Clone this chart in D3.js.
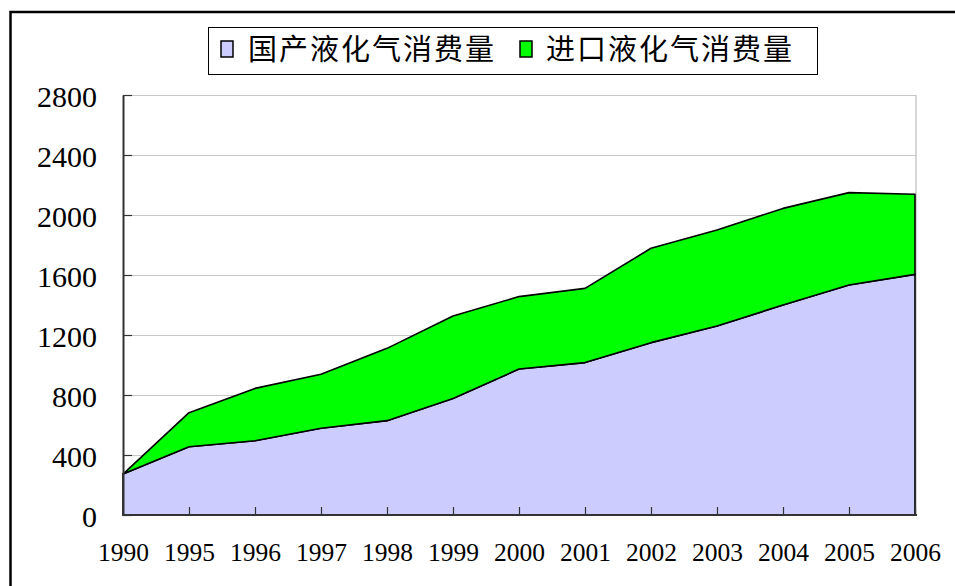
<!DOCTYPE html>
<html>
<head>
<meta charset="utf-8">
<script src="https://cdn.jsdelivr.net/npm/d3@7"></script>
<style>
  body { margin: 0; background: #fff; }
  svg { display: block; }
</style>
</head>
<body>
<div class="canvas"></div>
<script>
// years on the x axis (equally spaced categories)
const years = ['1990', '1995', '1996', '1997', '1998', '1999', '2000', '2001', '2002', '2003', '2004', '2005', '2006'];
// domestic LPG consumption
const domestic = [273, 455, 495, 578, 629, 776, 973, 1016, 1149, 1260, 1400, 1533, 1604];
// imported LPG consumption
const imported = [0, 227, 349, 360, 482, 551, 483, 495, 629, 640, 644, 616, 534];
const seriesNames = ['国产液化气消费量', '进口液化气消费量'];
const seriesColors = ['#ccccff', '#00ff00'];
const yTicks = [0, 400, 800, 1200, 1600, 2000, 2400, 2800];

draw_area_chart();

function draw_area_chart() {
    const W = 955, H = 586;
    const svg = d3.select('.canvas')
        .append('svg')
        .attr('width', W)
        .attr('height', H);

    // outer frame (top + left visible)
    svg.append('path')
        .attr('d', `M10.5,${H + 5} V12 H${W + 5}`)
        .attr('fill', 'none')
        .attr('stroke', '#000')
        .attr('stroke-width', 2.5);

    const left = 123, right = 916, top = 95, bottom = 515;

    const x = d3.scalePoint().domain(years).range([left, right - 1]);
    const y = d3.scaleLinear().domain([0, 2800]).range([bottom, top]);

    const table = years.map((yr, i) => ({ year: yr, dom: domestic[i], imp: imported[i] }));
    const stack = d3.stack().keys(['dom', 'imp']);
    const layers = stack(table);

    // gridlines
    svg.append('g')
        .selectAll('line')
        .data(yTicks.filter(t => t > 0))
        .enter().append('line')
        .attr('x1', left).attr('x2', right)
        .attr('y1', d => y(d) + 0.5).attr('y2', d => y(d) + 0.5)
        .attr('stroke', '#c8c8c8')
        .attr('stroke-width', 1.2);

    // right border of plot area
    svg.append('line')
        .attr('x1', right).attr('x2', right)
        .attr('y1', top).attr('y2', bottom)
        .attr('stroke', '#c8c8c8')
        .attr('stroke-width', 1.5);

    const area = d3.area()
        .x(d => x(d.data.year))
        .y0(d => y(d[0]))
        .y1(d => y(d[1]));

    svg.append('g')
        .selectAll('path')
        .data(layers)
        .enter().append('path')
        .attr('d', d => area(d) + 'Z')
        .attr('fill', (d, i) => seriesColors[i])
        .attr('stroke', '#000')
        .attr('stroke-width', 1.6)
        .attr('stroke-linejoin', 'round');

    const numFont = '"Liberation Serif", "DejaVu Serif", serif';

    // y axis with inward ticks
    const yAxis = d3.axisLeft(y).tickValues(yTicks).tickFormat(d3.format('d'))
        .tickSize(-9).tickPadding(26).tickSizeOuter(0);
    const gy = svg.append('g')
        .attr('transform', `translate(${left},0)`)
        .call(yAxis);
    gy.select('.domain').attr('stroke', '#333').attr('stroke-width', 2);
    gy.selectAll('.tick line').attr('stroke', '#333').attr('stroke-width', 1.2);
    gy.selectAll('text')
        .attr('font-family', numFont)
        .attr('font-size', 30)
        .attr('fill', '#000')
        .attr('dy', '0.38em');

    // x axis with inward ticks
    const xAxis = d3.axisBottom(x).tickSize(-8).tickPadding(37).tickSizeOuter(0);
    const gx = svg.append('g')
        .attr('transform', `translate(0,${bottom})`)
        .call(xAxis);
    gx.select('.domain').attr('stroke', '#333').attr('stroke-width', 2)
        .attr('d', `M${left - 1},0H${right + 1}`);
    gx.selectAll('.tick line').attr('stroke', '#333').attr('stroke-width', 1.2);
    gx.selectAll('.tick').filter(d => d === years[0]).select('line').remove();
    gx.selectAll('text')
        .attr('font-family', numFont)
        .attr('font-size', 25.5)
        .attr('fill', '#000')
        .attr('dy', '0.35em');

    // legend
    const legend = svg.append('g');
    legend.append('rect')
        .attr('x', 208.5).attr('y', 27.5)
        .attr('width', 609).attr('height', 47)
        .attr('fill', '#fff')
        .attr('stroke', '#000')
        .attr('stroke-width', 1);

    const items = [{ sx: 221, tx: 248 }, { sx: 520, tx: 546 }];
    items.forEach((it, i) => {
        legend.append('rect')
            .attr('x', it.sx).attr('y', 41)
            .attr('width', 12).attr('height', 16)
            .attr('fill', seriesColors[i])
            .attr('stroke', '#000')
            .attr('stroke-width', 1.5);
        legend.append('text')
            .attr('x', it.tx).attr('y', 50)
            .attr('dy', '0.36em')
            .attr('font-family', '"Noto Sans CJK SC", sans-serif')
            .attr('font-size', 29)
            .attr('letter-spacing', 2)
            .attr('fill', '#000')
            .text(seriesNames[i]);
    });
}
</script>
</body>
</html>
